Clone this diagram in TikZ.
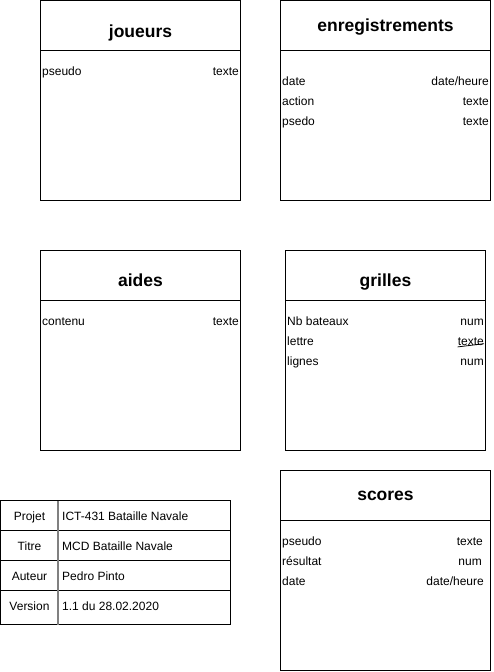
\documentclass[tikz,border=0pt]{standalone}
\usepackage{fontspec}
\setmainfont{Liberation Sans}
\begin{document}
\begin{tikzpicture}[x=1pt,y=-1pt,
  ent/.style={draw=black,line width=1pt},
  title/.style={font=\fontsize{17.5}{20}\selectfont\bfseries,anchor=base,inner sep=0pt},
  attr/.style={font=\fontsize{12}{14}\selectfont,anchor=base west,inner sep=0pt},
  typ/.style={font=\fontsize{12}{14}\selectfont,anchor=base east,inner sep=0pt},
  cell/.style={font=\fontsize{12}{14}\selectfont,anchor=base,inner sep=0pt},
  cellv/.style={font=\fontsize{12}{14}\selectfont,anchor=base west,inner sep=0pt}]
\useasboundingbox (0,0) rectangle (493,672);
% joueurs
\draw[ent] (40.5,0.5) rectangle (240.5,200.5);
\draw[ent] (40.5,50.5) -- (240.5,50.5);
\node[title] (tj) at (140.5,37) {joueurs};
\node[attr] (j1) at (42,75) {pseudo};
\node[typ] (j1t) at (239,75) {texte};
% enregistrements
\draw[ent] (280.5,0.5) rectangle (490.5,200.5);
\draw[ent] (280.5,50.5) -- (490.5,50.5);
\node[title] (te) at (385.5,31) {enregistrements};
\node[attr] (e1) at (282,85) {date};
\node[typ] (e1t) at (489,85) {date/heure};
\node[attr] (e2) at (282,105) {action};
\node[typ] (e2t) at (489,105) {texte};
\node[attr] (e3) at (282,125) {psedo};
\node[typ] (e3t) at (489,125) {texte};
% aides
\draw[ent] (40.5,250.5) rectangle (240.5,450.5);
\draw[ent] (40.5,300.5) -- (240.5,300.5);
\node[title] (ta) at (140.5,286) {aides};
\node[attr] (a1) at (42,325) {contenu};
\node[typ] (a1t) at (239,325) {texte};
% grilles
\draw[ent] (285.5,250.5) rectangle (485.5,450.5);
\draw[ent] (285.5,300.5) -- (485.5,300.5);
\node[title] (tg) at (385.5,286) {grilles};
\node[attr] (g1) at (287,325) {Nb bateaux};
\node[typ] (g1t) at (484,325) {num};
\node[attr] (g2) at (287,345) {lettre};
\node[typ] (g2t) at (484,345) {texte};
\draw[line width=0.8pt] (g2t.south west) ++(0,1.6) -- ([yshift=1.6pt]g2t.south east);
\node[attr] (g3) at (287,365) {lignes};
\node[typ] (g3t) at (484,365) {num};
% scores
\draw[ent] (280.5,470.5) rectangle (490.5,670.5);
\draw[ent] (280.5,520.5) -- (490.5,520.5);
\node[title] (ts) at (385.5,500.5) {scores};
\node[attr] (s1) at (282,545) {pseudo};
\node[typ] (s1t) at (483,545) {texte};
\node[attr] (s2) at (282,565) {résultat};
\node[typ] (s2t) at (482,565) {num};
\node[attr] (s3) at (282,585) {date};
\node[typ] (s3t) at (484,585) {date/heure};
% info table
\draw[ent] (0.5,500.5) rectangle (230.5,624.5);
\draw[ent] (0.5,530.5) -- (230.5,530.5);
\draw[ent] (0.5,560.5) -- (230.5,560.5);
\draw[ent] (0.5,590.5) -- (230.5,590.5);
\draw[draw=black!50,line width=2pt] (58,500.5) -- (58,624.5);
\node[cell] (p1) at (29.5,520) {Projet};
\node[cellv] (p2) at (62,520) {ICT-431 Bataille Navale};
\node[cell] (t1) at (29.5,550) {Titre};
\node[cellv] (t2) at (62,550) {MCD Bataille Navale};
\node[cell] (u1) at (29.5,580) {Auteur};
\node[cellv] (u2) at (62,580) {Pedro Pinto};
\node[cell] (v1) at (29.5,610) {Version};
\node[cellv] (v2) at (62,610) {1.1 du 28.02.2020};
\end{tikzpicture}
\end{document}
